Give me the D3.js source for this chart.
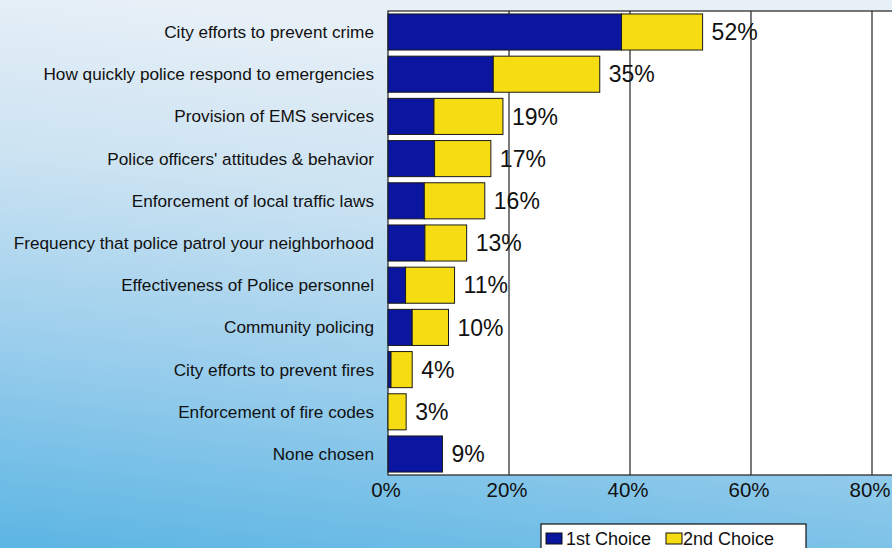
<!DOCTYPE html>
<html>
<head>
<meta charset="utf-8">
<script src="https://cdn.jsdelivr.net/npm/d3@7"></script>
<style>
  html, body { margin: 0; padding: 0; background: #ffffff; }
  svg { display: block; }
</style>
</head>
<body>
<svg id="chart" width="892" height="548"></svg>
<script>
// Priority issues: share of respondents naming each item as 1st or 2nd choice
const categories = [
  "City efforts to prevent crime",
  "How quickly police respond to emergencies",
  "Provision of EMS services",
  "Police officers' attitudes & behavior",
  "Enforcement of local traffic laws",
  "Frequency that police patrol your neighborhood",
  "Effectiveness of Police personnel",
  "Community policing",
  "City efforts to prevent fires",
  "Enforcement of fire codes",
  "None chosen"
];
// Combined (1st + 2nd choice) percentages, as labelled
const totals = [52, 35, 19, 17, 16, 13, 11, 10, 4, 3, 9];
// 1st choice percentages
const firstChoice = [38.6, 17.4, 7.6, 7.7, 6.0, 6.1, 2.9, 4.0, 0.5, 0, 9];
// 2nd choice percentages
const secondChoice = [13.4, 17.6, 11.4, 9.3, 10.0, 6.9, 8.1, 6.0, 3.5, 3, 0];
const seriesNames = ["1st Choice", "2nd Choice"];
const xTicks = [0, 20, 40, 60, 80];

const W = 892, H = 548;
const margin = { left: 388, top: 11, bottom: 73 };
const plotRight = 993;               // 100% edge of the plot frame
const colors = ["#0a169f", "#f6dc12"];
const font = "Liberation Sans, Arial, sans-serif";

const svg = d3.select("#chart");

// Background wash: pale at the top, sky blue at the bottom
const defs = svg.append("defs");
const grad = defs.append("linearGradient")
  .attr("id", "bg").attr("x1", 0.2).attr("y1", 0).attr("x2", 0).attr("y2", 1);
grad.append("stop").attr("offset", 0).attr("stop-color", "#e8f0f7");
grad.append("stop").attr("offset", 0.3).attr("stop-color", "#cce3f2");
grad.append("stop").attr("offset", 0.65).attr("stop-color", "#98cdec");
grad.append("stop").attr("offset", 1).attr("stop-color", "#5bb5e3");
svg.append("rect").attr("width", W).attr("height", H).attr("fill", "url(#bg)");

const x = d3.scaleLinear().domain([0, 100]).range([margin.left, plotRight]);
const y = d3.scaleBand().domain(categories)
  .range([margin.top, H - margin.bottom]).paddingInner(0.145).paddingOuter(0.07);

const plotTop = margin.top, plotBottom = H - margin.bottom;

// Plot area
svg.append("rect")
  .attr("x", x(0)).attr("y", plotTop)
  .attr("width", x(100) - x(0)).attr("height", plotBottom - plotTop)
  .attr("fill", "#ffffff").attr("stroke", "#222").attr("stroke-width", 1.2);

// Vertical gridlines
svg.append("g").selectAll("line")
  .data(xTicks.filter(t => t > 0))
  .join("line")
  .attr("x1", d => x(d)).attr("x2", d => x(d))
  .attr("y1", plotTop).attr("y2", plotBottom)
  .attr("stroke", "#222").attr("stroke-width", 1.2);

// Stacked bars
const rows = categories.map((c, i) => ({ c, a: firstChoice[i], b: totals[i] - firstChoice[i], t: totals[i] }));
const stack = d3.stack().keys(["a", "b"])(rows);

svg.append("g").selectAll("g")
  .data(stack)
  .join("g")
  .attr("fill", (d, i) => colors[i])
  .selectAll("rect")
  .data(d => d.filter(s => s[1] - s[0] > 0))
  .join("rect")
  .attr("x", d => x(d[0]))
  .attr("y", d => y(d.data.c))
  .attr("width", d => x(d[1]) - x(d[0]))
  .attr("height", y.bandwidth())
  .attr("stroke", "#1a1a1a").attr("stroke-width", 1);

// Value labels
svg.append("g").selectAll("text")
  .data(rows)
  .join("text")
  .attr("x", d => x(d.t) + 9)
  .attr("y", d => y(d.c) + y.bandwidth() / 2)
  .attr("dy", "0.36em")
  .attr("font-family", font)
  .attr("font-size", 23)
  .attr("fill", "#111")
  .text(d => d.t + "%");

// Category axis labels
svg.append("g").selectAll("text")
  .data(categories)
  .join("text")
  .attr("x", 374)
  .attr("y", d => y(d) + y.bandwidth() / 2)
  .attr("dy", "0.35em")
  .attr("text-anchor", "end")
  .attr("font-family", font)
  .attr("font-size", 17.2)
  .attr("fill", "#111")
  .text(d => d);

// Value axis
const xAxis = d3.axisBottom(x).tickValues(xTicks).tickSize(0).tickPadding(7)
  .tickFormat(d => d + "%");
const gx = svg.append("g").attr("transform", `translate(-2.5,${plotBottom})`).call(xAxis);
gx.select(".domain").remove();
gx.selectAll("text")
  .attr("font-family", font)
  .attr("font-size", 20.5)
  .attr("fill", "#111");

// Legend
const lg = svg.append("g").attr("transform", "translate(541,524)");
lg.append("rect").attr("width", 265).attr("height", 30)
  .attr("fill", "#ffffff").attr("stroke", "#111").attr("stroke-width", 1.2);
const items = [{ x: 5, tx: 25 }, { x: 125, tx: 142 }];
seriesNames.forEach((name, i) => {
  lg.append("rect").attr("x", items[i].x).attr("y", 9)
    .attr("width", 16).attr("height", 11)
    .attr("fill", colors[i]).attr("stroke", "#111").attr("stroke-width", 1);
  lg.append("text").attr("x", items[i].tx).attr("y", 15).attr("dy", "0.36em")
    .attr("font-family", font)
    .attr("font-size", 18).attr("fill", "#111")
    .text(name);
});
</script>
</body>
</html>
